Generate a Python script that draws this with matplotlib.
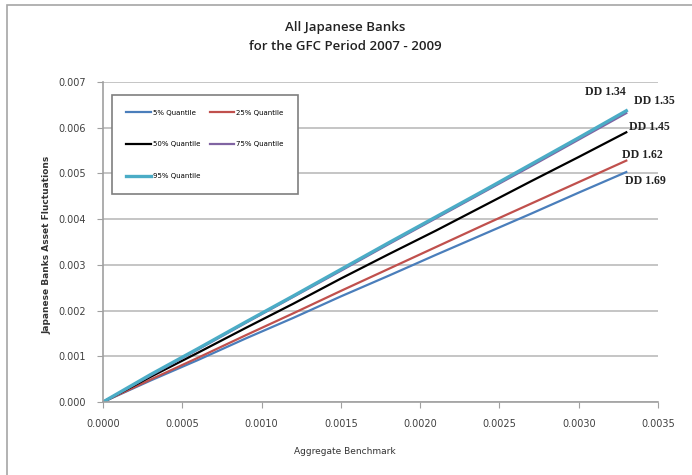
import matplotlib
matplotlib.use("Agg")
import matplotlib.pyplot as plt
from matplotlib.patches import Rectangle
from matplotlib.ticker import FormatStrFormatter

# benchmark grid and quantile paths
bench = [0.0, 0.0003, 0.0006, 0.0009, 0.0012, 0.0015, 0.0018, 0.0021, 0.0024, 0.0027, 0.0030, 0.0033]
q05 = [0.0, 0.00047, 0.00092, 0.00139, 0.00184, 0.00231, 0.00276, 0.00322, 0.00367, 0.00412, 0.00458, 0.00503]
q25 = [0.0, 0.00049, 0.00097, 0.00146, 0.00194, 0.00243, 0.00291, 0.00339, 0.00387, 0.00434, 0.00481, 0.00528]
q50 = [0.0, 0.00055, 0.00108, 0.00162, 0.00215, 0.00270, 0.00323, 0.00375, 0.00429, 0.00483, 0.00536, 0.00590]
q75 = [0.0, 0.00058, 0.00115, 0.00173, 0.00230, 0.00287, 0.00345, 0.00402, 0.00459, 0.00516, 0.00574, 0.00632]
q95 = [0.0, 0.00060, 0.00117, 0.00175, 0.00232, 0.00290, 0.00348, 0.00405, 0.00462, 0.00520, 0.00578, 0.00637]

labels = ["5% Quantile", "25% Quantile", "50% Quantile", "75% Quantile", "95% Quantile"]
dd_labels = ["DD 1.34", "DD 1.35", "DD 1.45", "DD 1.62", "DD 1.69"]
dd_x = [0.00304, 0.00335, 0.00332, 0.00327, 0.00329]
dd_y = [0.00678, 0.00658, 0.00602, 0.00540, 0.00483]

fig = plt.figure(figsize=(6.92, 4.75), dpi=100)
# chart-area border, cut off on the right and bottom as in the screenshot
fig.patches.append(Rectangle((7/692, -0.05), 1.2, 1 - 5/475 + 0.05, transform=fig.transFigure,
                             fill=False, edgecolor="#a6a6a6", linewidth=1.2))
ax = fig.add_axes([103/692, 73/475, 555/692, 320/475])

l05, = ax.plot(bench, q05, color="#4a7ebb", lw=1.6)
l25, = ax.plot(bench, q25, color="#c0504d", lw=1.6)
l50, = ax.plot(bench, q50, color="black", lw=1.6)
l75, = ax.plot(bench, q75, color="#8064a2", lw=1.6)
l95, = ax.plot(bench, q95, color="#4bacc6", lw=2.4)

ax.set_xlim(0, 0.0035)
ax.set_ylim(0, 0.007)
ax.set_xticks([0.0005 * i for i in range(8)])
ax.set_yticks([0.001 * i for i in range(8)])
ax.xaxis.set_major_formatter(FormatStrFormatter("%.4f"))
ax.yaxis.set_major_formatter(FormatStrFormatter("%.3f"))
ax.tick_params(labelsize=7, colors="#404040", length=4, width=0.8, pad=8)
ax.tick_params(axis="both", color="#a0a0a0")
ax.grid(axis="y", color="#c0c0c0", lw=1.3)
ax.set_axisbelow(True)
for s in ["top", "right"]:
    ax.spines[s].set_visible(False)
for s in ["left", "bottom"]:
    ax.spines[s].set_color("#a0a0a0")
    ax.spines[s].set_linewidth(1.2)

for t, x, y in zip(dd_labels, dd_x, dd_y):
    ax.text(x, y, t, fontsize=8.5, family="Liberation Serif", fontweight="bold",
            color="#222222", va="center", ha="left")

handles = [l05, l50, l95, l25, l75]
hl = [labels[0], labels[2], labels[4], labels[1], labels[3]]
leg = ax.legend(handles, hl, ncol=2, loc="upper left", bbox_to_anchor=(0.016, 0.959),
                prop={"size": 5}, fancybox=False, framealpha=1, edgecolor="#7f7f7f",
                labelspacing=3.7, handlelength=3.5, handletextpad=0.3, columnspacing=1.4,
                borderpad=2.1, borderaxespad=0)
leg.get_frame().set_linewidth(1.2)

fig.text(345/692, 1 - 28/475, "All Japanese Banks", ha="center", va="center",
         fontsize=9.5, family="Open Sans", fontweight="semibold", color="#222222")
fig.text(345/692, 1 - 46/475, "for the GFC Period 2007 - 2009", ha="center", va="center",
         fontsize=9.5, family="Open Sans", fontweight="semibold", color="#222222")
fig.text(47/692, 1 - 245/475, "Japanese Banks Asset Fluctuations", rotation=90,
         ha="center", va="center", fontsize=6.5, fontweight="bold", color="#333333")
fig.text(345/692, 1 - 451/475, "Aggregate Benchmark", ha="center", va="center",
         fontsize=6.5, color="#333333")

fig.savefig("out.png", dpi=100)
